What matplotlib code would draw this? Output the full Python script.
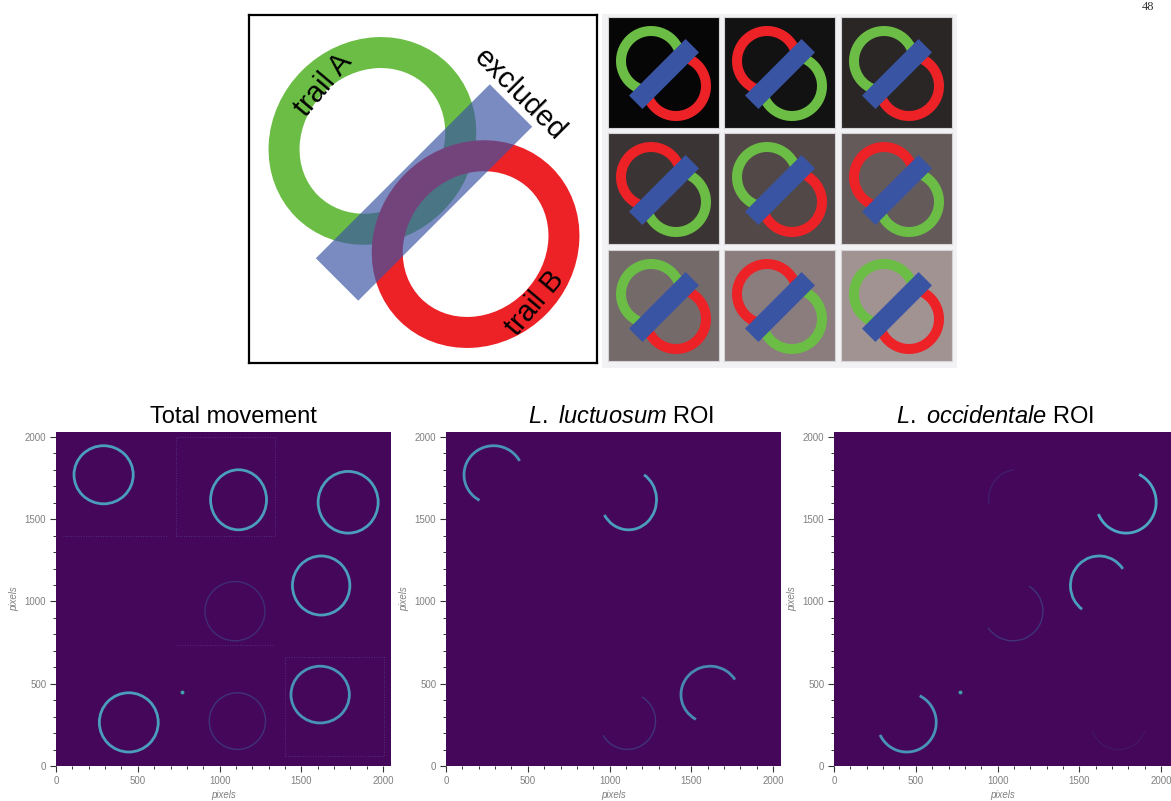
import numpy as np
import matplotlib.pyplot as plt
from matplotlib.patches import Ellipse, Arc, Rectangle
from matplotlib.colors import LinearSegmentedColormap

plt.rcParams['font.family'] = ['Liberation Sans', 'DejaVu Sans']
plt.rcParams['mathtext.fontset'] = 'custom'
plt.rcParams['mathtext.rm'] = 'Liberation Sans'
plt.rcParams['mathtext.it'] = 'Liberation Sans:italic'

W, H = 1171, 801

# schematic (pixel units inside the 348 px box, y up)
box_size = 348
bar_xy = (175, 170.5)
bar_len, bar_wid = 246, 60
trail_a_xy = (123.4, 222.1)
trail_b_xy = (226.6, 118.9)
trail_w, trail_h = 185, 168
trail_lw = 22.3
label_text = ['trail A', 'excluded', 'trail B']
label_x = [74, 271, 286]
label_y = [278, 268, 60]
label_rot = [50, -45, 50]

# 3x3 grid of stimulus cells
cell_bg = ['#060606', '#121212', '#2b2626',
           '#3b3434', '#524848', '#645a5a',
           '#746a6a', '#8b7d7d', '#a29393']
cell_first = ['green', 'red', 'green', 'red', 'green', 'red', 'green', 'red', 'green']
cell_col_x = [608, 724, 841]
cell_row_y = [17, 133, 250]
cell_size = 111

GREEN = '#6bbd45'
RED = '#ec2227'
BLUE = '#3a54a4'

# movement heatmaps: trail rings (pixels)
ring_x = [291, 1116, 1786, 1621, 1094, 445, 1109, 1615]
ring_y = [1770, 1618, 1603, 1097, 941, 265, 273, 434]
ring_w = [362, 342, 367, 351, 367, 360, 344, 357]
ring_h = [353, 365, 375, 359, 360, 360, 344, 345]
total_level = [0.9, 0.9, 0.9, 0.9, 0.25, 0.9, 0.3, 0.85]

luct_ring = [0, 1, 7, 6]
luct_t1 = [28, -148, 31, -150]
luct_t2 = [241, 58, 240, 59]
luct_level = [0.85, 0.9, 0.8, 0.3]

occ_ring = [2, 3, 5, 4, 1]
occ_t1 = [-157, 35, -155, -146, 95]
occ_t2 = [65, 234, 64, 57, 190]
occ_level = [0.95, 0.9, 0.85, 0.3, 0.15]

titles = ['Total movement', r'$\mathit{L.}$ $\mathit{luctuosum}$ ROI',
          r'$\mathit{L.}$ $\mathit{occidentale}$ ROI']
title_x = [233, 621, 995]
panel_left = [56, 446, 834]
panel_width = [335, 335, 338]

trail_cmap = LinearSegmentedColormap.from_list('trail', ['#45075a', '#3b528b', '#4eb0c8'])

fig = plt.figure(figsize=(W / 100, H / 100), dpi=100)


def px_axes(x0, y0, w, h):
    return fig.add_axes([x0 / W, 1 - (y0 + h) / H, w / W, h / H])


# --- schematic ---
ax = px_axes(249, 15, box_size, box_size)
ax.set_xlim(0, box_size)
ax.set_ylim(0, box_size)
ax.set_xticks([])
ax.set_yticks([])
for s in ax.spines.values():
    s.set_linewidth(1.6)
    s.set_color('black')
ax.add_patch(Ellipse(trail_a_xy, trail_w, trail_h, angle=45, fill=False,
                     ec=GREEN, lw=trail_lw, zorder=2))
ax.add_patch(Ellipse(trail_b_xy, trail_w, trail_h, angle=45, fill=False,
                     ec=RED, lw=trail_lw, zorder=3))
ax.add_patch(Rectangle((bar_xy[0] - bar_len / 2, bar_xy[1] - bar_wid / 2), bar_len, bar_wid,
                       angle=45, rotation_point='center', color=BLUE, alpha=0.68, lw=0, zorder=4))
for t, x, y, r in zip(label_text, label_x, label_y, label_rot):
    ax.text(x, y, t, rotation=r, fontsize=21, ha='center', va='center',
            rotation_mode='anchor', zorder=5)

# --- grid of cells ---
bg = px_axes(602, 14, 355, 354)
bg.set_facecolor('#f2f2f4')
bg.set_xticks([])
bg.set_yticks([])
for s in bg.spines.values():
    s.set_visible(False)

for i in range(9):
    r, c = divmod(i, 3)
    cax = px_axes(cell_col_x[c], cell_row_y[r], cell_size, cell_size)
    cax.set_xlim(0, cell_size)
    cax.set_ylim(0, cell_size)
    cax.set_facecolor(cell_bg[i])
    cax.set_xticks([])
    cax.set_yticks([])
    for s in cax.spines.values():
        s.set_color('#d4d4d6')
        s.set_linewidth(0.8)
    c1 = GREEN if cell_first[i] == 'green' else RED
    c2 = RED if cell_first[i] == 'green' else GREEN
    cax.add_patch(Arc((43, 67), 60, 60, theta1=22, theta2=248, color=c1, lw=7.2))
    cax.add_patch(Arc((68, 42), 60, 60, theta1=-158, theta2=68, color=c2, lw=7.2))
    cax.add_patch(Rectangle((56 - 40, 54 - 9.5), 80, 19, angle=45,
                            rotation_point='center', color=BLUE, lw=0, zorder=4))

# --- heatmap panels ---
axes = []
for k in range(3):
    hax = px_axes(panel_left[k], 432, panel_width[k], 334)
    hax.set_xlim(0, 2048 * panel_width[k] / 335)
    hax.set_ylim(0, 2030)
    hax.set_facecolor('#45075a')
    for s in hax.spines.values():
        s.set_visible(False)
    hax.set_xticks([0, 500, 1000, 1500, 2000])
    hax.set_yticks([0, 500, 1000, 1500, 2000])
    hax.set_xticks(np.arange(0, 2001, 100), minor=True)
    hax.set_yticks(np.arange(0, 2001, 100), minor=True)
    hax.tick_params(which='major', length=4, width=0.8, color='#333333',
                    labelsize=7, labelcolor='#808080', pad=3)
    hax.tick_params(which='minor', length=2.5, width=0.7, color='#333333')
    hax.set_xlabel('pixels', fontsize=7, color='#808080', style='italic', labelpad=3)
    hax.set_ylabel('pixels', fontsize=7, color='#808080', style='italic', labelpad=4)
    fig.text(title_x[k] / W, 1 - 423 / H, titles[k], fontsize=17, ha='center', va='baseline')
    axes.append(hax)

# total movement: full rings
ax1 = axes[0]
for i in range(len(ring_x)):
    lv = total_level[i]
    ax1.add_patch(Ellipse((ring_x[i], ring_y[i]), ring_w[i], ring_h[i], fill=False,
                          ec=trail_cmap(lv), lw=2.0 if lv > 0.5 else 1.0))
# faint tiling edges
dot = dict(color='#5b3a8a', lw=0.6, ls=(0, (1, 2)))
ax1.plot([733, 1338, 1338, 733, 733], [1399, 1399, 2000, 2000, 1399], **dot)
ax1.plot([1403, 2004, 2004, 1403, 1403], [59, 59, 664, 664, 59], **dot)
ax1.plot([40, 680], [1400, 1400], **dot)
ax1.plot([737, 1328], [735, 735], **dot)
ax1.scatter([768], [450], s=8, color='#3fa0a8', lw=0)

# L. luctuosum ROI
for j in range(len(luct_ring)):
    i = luct_ring[j]
    lv = luct_level[j]
    axes[1].add_patch(Arc((ring_x[i], ring_y[i]), ring_w[i], ring_h[i],
                          theta1=luct_t1[j], theta2=luct_t2[j],
                          color=trail_cmap(lv), lw=2.0 if lv > 0.5 else 1.0))

# L. occidentale ROI
for j in range(len(occ_ring)):
    i = occ_ring[j]
    lv = occ_level[j]
    axes[2].add_patch(Arc((ring_x[i], ring_y[i]), ring_w[i], ring_h[i],
                          theta1=occ_t1[j], theta2=occ_t2[j],
                          color=trail_cmap(lv), lw=2.0 if lv > 0.5 else 1.0))
axes[2].add_patch(Arc((1740, 270), 340, 340, theta1=200, theta2=340,
                      color=trail_cmap(0.12), lw=0.8))
axes[2].scatter([768], [450], s=8, color='#3fa0a8', lw=0)

# page number at the top edge
fig.text(1148 / W, 1 - 0.5 / H, '48', fontsize=9, family='Liberation Serif',
         ha='center', va='top', color='#333333')

fig.savefig('out.png', dpi=100)
